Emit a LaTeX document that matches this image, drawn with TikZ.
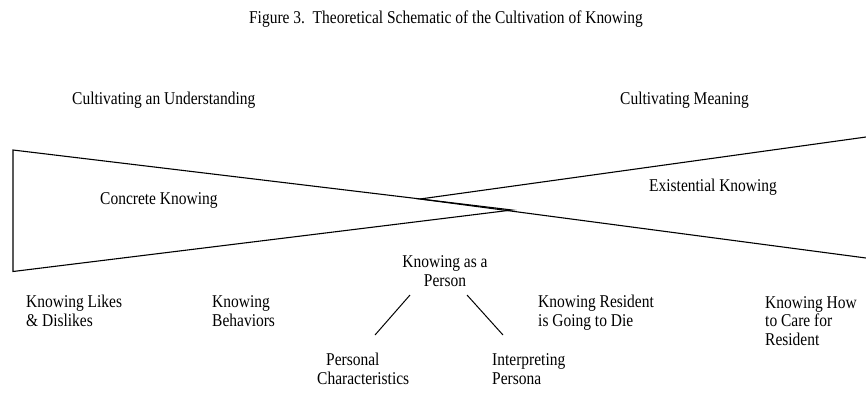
\documentclass[tikz,border=0pt]{standalone}
\usepackage{fontspec}
\setmainfont{Liberation Serif}[FakeStretch=0.86]
\begin{document}
\begin{tikzpicture}[x=1pt,y=-1pt,
  lbl/.style={font=\fontsize{18}{18.5}\selectfont, inner sep=0pt, anchor=base west, align=left},
  clbl/.style={lbl, anchor=base, align=center},
  ttl/.style={font=\fontsize{18}{18.5}\selectfont, inner sep=0pt, anchor=base},
  wedge/.style={line width=1.1pt, line join=miter},
  link/.style={line width=1pt}]
\useasboundingbox (0,0) rectangle (866,394);
% title
\node[ttl] (title) at (446,23) {Figure 3.\ \ Theoretical Schematic of the Cultivation of Knowing};
% headings
\node[lbl] (under) at (72,104) {Cultivating an Understanding};
\node[lbl] (mean) at (620,104) {Cultivating Meaning};
% the two overlapping triangles
\draw[wedge] (13,150) -- (512,210) -- (13,271.5) -- cycle;
\draw[wedge] (866,137) -- (420,199) -- (866,258);
\node[lbl] (concrete) at (100,204) {Concrete Knowing};
\node[lbl] (exist) at (649,191) {Existential Knowing};
% lower labels (anchor = baseline of the last line)
\node[clbl] (kap) at (445,286) {Knowing as a\\Person};
\node[lbl] (likes) at (26,326) {Knowing Likes\\\& Dislikes};
\node[lbl] (behav) at (212,326) {Knowing\\Behaviors};
\node[lbl] (die) at (538,326) {Knowing Resident\\is Going to Die};
\node[lbl] (care) at (765,345) {Knowing How\\to Care for\\Resident};
\node[lbl] (pers) at (317,384) {\hspace*{9pt}Personal\\Characteristics};
\node[lbl] (interp) at (492,384) {Interpreting\\Persona};
% connectors
\coordinate (kapL) at (410,295);
\coordinate (kapR) at (467,295);
\coordinate (persT) at (375,335);
\coordinate (interpT) at (503,335);
\draw[link] (kapL) -- (persT);
\draw[link] (kapR) -- (interpT);
\end{tikzpicture}
\end{document}
